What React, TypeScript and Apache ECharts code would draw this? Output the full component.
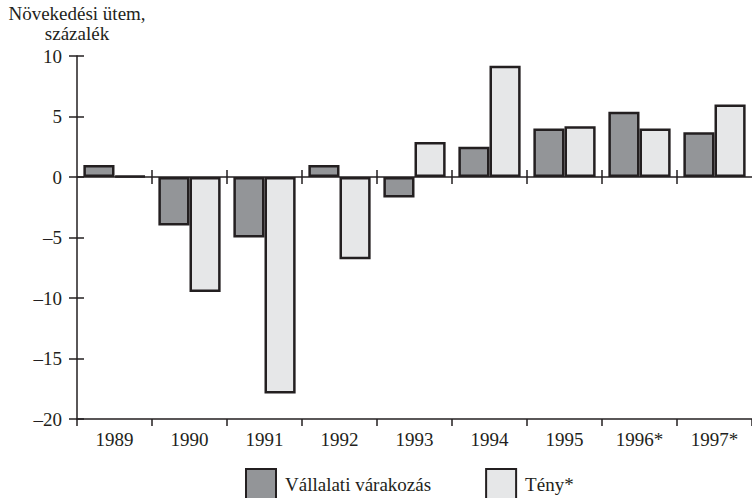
import React, { useEffect, useRef } from "react";
import * as echarts from "echarts";

const categories = ["1989", "1990", "1991", "1992", "1993", "1994", "1995", "1996*", "1997*"];
const expectationValues = [1.0, -4.0, -5.0, 1.0, -1.7, 2.5, 4.0, 5.4, 3.7];
const actualValues = [0.1, -9.5, -17.9, -6.8, 2.9, 9.2, 4.2, 4.0, 6.0];
const seriesNames = ["Vállalati várakozás", "Tény*"];
const yTitle = "Növekedési ütem,\nszázalék";

const INK = "#231f20";
const FONT = "Liberation Serif";

export default function App() {
  const ref = useRef<HTMLDivElement>(null);
  useEffect(() => {
    document.body.style.margin = "0";
    if (!ref.current) return;
    const chart = echarts.init(ref.current, undefined, { renderer: "svg" });
    const fmt = (v: number) => String(v).replace("-", "\u2013");
    const boundaryData = categories.slice(1).map((_, i) => [i + 1, 0]);
    chart.setOption({
      animation: false,
      textStyle: { fontFamily: FONT, color: INK },
      grid: { left: 77, right: -5, top: 56, bottom: 79 },
      graphic: [
        {
          type: "text",
          x: 77,
          y: 3,
          style: {
            text: yTitle,
            font: `19px "${FONT}"`,
            fill: INK,
            textAlign: "center",
            lineHeight: 20,
          },
        },
      ],
      legend: {
        left: 245,
        top: 468,
        padding: 0,
        itemWidth: 30,
        itemHeight: 30,
        itemGap: 54,
        icon: "rect",
        textStyle: { fontFamily: FONT, fontSize: 19, color: INK, padding: [0, 0, 0, 4] },
        data: seriesNames,
      },
      xAxis: {
        type: "category",
        data: categories,
        position: "bottom",
        axisLine: { show: true, onZero: false, lineStyle: { color: INK, width: 1.5 } },
        axisTick: { show: true, inside: false, length: 7, lineStyle: { color: INK, width: 1.5 } },
        axisLabel: { fontFamily: FONT, fontSize: 19, color: INK, margin: 11 },
        splitLine: { show: false },
      },
      yAxis: [
        {
          type: "value",
          min: -20,
          max: 10,
          interval: 5,
          position: "left",
          axisLine: { show: true, onZero: false, lineStyle: { color: INK, width: 1.5 } },
          axisTick: { show: true, inside: false, length: 8, lineStyle: { color: INK, width: 1.5 } },
          axisLabel: { fontFamily: FONT, fontSize: 19, color: INK, margin: 15, formatter: fmt },
          splitLine: { show: false },
        },
        {
          type: "value",
          min: -20,
          max: 10,
          interval: 5,
          position: "left",
          axisLine: { show: false, onZero: false },
          axisTick: { show: true, inside: true, length: 7, lineStyle: { color: INK, width: 1.5 } },
          axisLabel: { show: false },
          splitLine: { show: false },
        },
      ],
      series: [
        {
          name: seriesNames[0],
          type: "bar",
          data: expectationValues,
          barWidth: "41.5%",
          barGap: "0%",
          itemStyle: { color: "#939598", borderColor: INK, borderWidth: 2.5 },
          z: 3,
          markLine: {
            silent: true,
            symbol: "none",
            label: { show: false },
            lineStyle: { color: INK, width: 1.5, type: "solid" },
            data: [{ yAxis: 0 }],
            z: 2,
          },
        },
        {
          name: seriesNames[1],
          type: "bar",
          data: actualValues,
          barWidth: "41.5%",
          barGap: "0%",
          itemStyle: { color: "#e6e7e8", borderColor: INK, borderWidth: 2.5 },
          z: 3,
        },
        {
          type: "custom",
          silent: true,
          data: boundaryData,
          z: 4,
          renderItem: (params: any, api: any) => {
            const c = api.coord([api.value(0), api.value(1)]);
            const w = api.size([1, 0])[0];
            const x = c[0] - w / 2;
            return {
              type: "line",
              shape: { x1: x, y1: c[1] - 7, x2: x, y2: c[1] + 7 },
              style: { stroke: INK, lineWidth: 1.5 },
            };
          },
        },
      ],
    });
    return () => chart.dispose();
  }, []);
  return <div ref={ref} style={{ width: 752, height: 498 }} />;
}
